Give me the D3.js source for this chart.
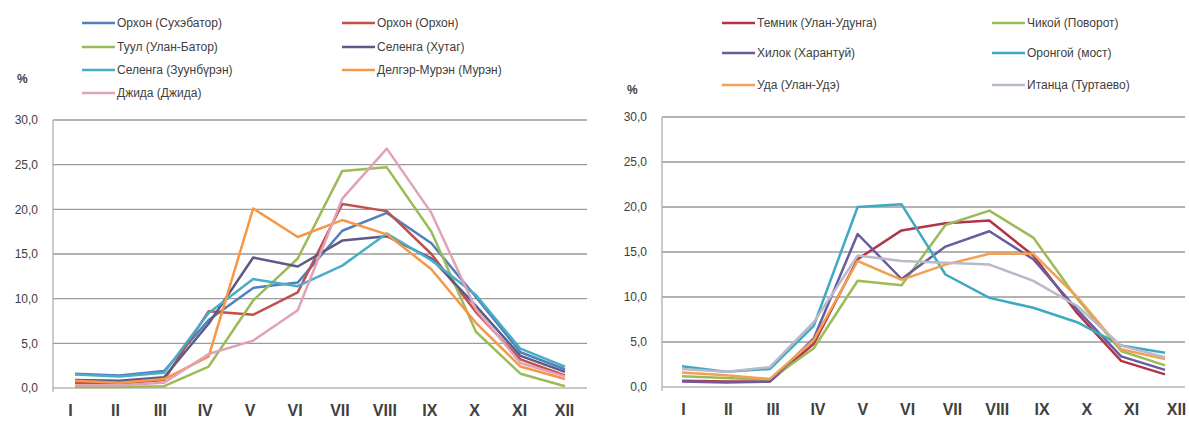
<!DOCTYPE html>
<html lang="ru">
  <head>
    <meta charset="UTF-8" />
    <title>Внутригодовое распределение стока</title>
    <script src="https://d3js.org/d3.v7.min.js"></script>
    <style>
      body { margin: 0; background: #fff; }
      text { font-family: 'Liberation Sans', Arial, sans-serif; fill: #404040; }
    </style>
  </head>

  <body>
    <div id="graph"></div>
    <script>
      // месяцы
      const months = ['I', 'II', 'III', 'IV', 'V', 'VI', 'VII', 'VIII', 'IX', 'X', 'XI', 'XII']
      const yTicks = [0, 5, 10, 15, 20, 25, 30]

      // левый график (Монголия), %
      const leftNames = ['Орхон (Сухэбатор)', 'Орхон (Орхон)', 'Туул (Улан-Батор)', 'Селенга (Хутаг)', 'Селенга (Зуунбүрэн)', 'Делгэр-Мурэн (Мурэн)', 'Джида (Джида)']
      const orkhonSukhbaatar = [1.6, 1.4, 1.9, 7.6, 11.2, 11.8, 17.6, 19.6, 16.2, 10.2, 4.0, 2.1]
      const orkhonOrkhon = [0.6, 0.5, 0.9, 8.6, 8.2, 10.7, 20.6, 19.8, 15.0, 8.5, 3.2, 1.4]
      const tuulUlaanbaatar = [0.1, 0.1, 0.2, 2.4, 9.8, 14.5, 24.3, 24.7, 17.5, 6.3, 1.6, 0.2]
      const selengaKhutag = [0.9, 0.8, 1.2, 7.2, 14.6, 13.6, 16.5, 17.0, 14.5, 9.2, 3.6, 1.8]
      const selengaZuunburen = [1.5, 1.3, 1.7, 8.4, 12.2, 11.4, 13.7, 17.3, 14.3, 10.4, 4.4, 2.4]
      const delgerMuren = [0.8, 0.6, 1.0, 3.5, 20.1, 16.9, 18.8, 17.2, 13.3, 7.3, 2.4, 1.0]
      const dzhidaDzhida = [0.3, 0.3, 0.6, 3.8, 5.3, 8.7, 21.2, 26.8, 19.6, 8.8, 2.8, 1.3]
      const leftColors = ['#4f81bd', '#c0504d', '#9bbb59', '#5c5a86', '#4bacc6', '#f79646', '#e0a2b6']

      // правый график (Россия), %
      const rightNames = ['Темник (Улан-Удунга)', 'Чикой (Поворот)', 'Хилок (Харантуй)', 'Оронгой (мост)', 'Уда (Улан-Удэ)', 'Итанца (Туртаево)']
      const temnik = [0.7, 0.6, 0.6, 4.8, 14.2, 17.4, 18.2, 18.5, 14.6, 8.2, 2.9, 1.4]
      const chikoy = [1.2, 1.0, 0.8, 4.3, 11.8, 11.3, 18.0, 19.6, 16.6, 9.8, 4.0, 2.4]
      const khilok = [0.6, 0.5, 0.6, 5.4, 17.0, 12.0, 15.6, 17.3, 14.2, 8.6, 3.4, 1.9]
      const orongoy = [2.3, 1.7, 2.0, 6.8, 20.0, 20.3, 12.5, 9.9, 8.8, 7.2, 4.6, 3.8]
      const uda = [1.6, 1.3, 0.9, 5.2, 14.0, 11.9, 13.6, 14.8, 14.8, 10.0, 4.2, 3.1]
      const itantsa = [2.0, 1.7, 2.2, 7.2, 14.6, 14.0, 13.8, 13.6, 11.8, 9.0, 4.6, 3.3]
      const rightColors = ['#b3344a', '#9bbb59', '#6a5c9c', '#3fa9c2', '#f2a052', '#b9b9c9']

      const svg = d3.select('#graph').append('svg').attr('width', 1189).attr('height', 424)

      function drawChart(opt) {
        const g = svg.append('g')
        const x = d3.scalePoint().domain(months).range(opt.xRange)
        // подписи месяцев в оригинале чуть шире, чем точки
        const xLab = d3.scalePoint().domain(months).range(opt.labRange)
        const y = d3.scaleLinear().domain([0, 30]).range(opt.yRange)

        // сетка
        g.selectAll('line.grid')
          .data(yTicks)
          .join('line')
          .attr('x1', opt.left)
          .attr('x2', opt.right)
          .attr('y1', (d) => y(d))
          .attr('y2', (d) => y(d))
          .attr('stroke', (d) => (d === 0 ? '#b5b5b5' : '#9a9a9a'))
          .attr('stroke-width', 1.3)
        g.append('line')
          .attr('x1', opt.left).attr('x2', opt.left)
          .attr('y1', y(30)).attr('y2', y(0) + 4)
          .attr('stroke', '#b0b0b0').attr('stroke-width', 1.3)

        // ось Y
        g.selectAll('text.ytick')
          .data(yTicks)
          .join('text')
          .attr('x', opt.left - 15)
          .attr('y', (d) => y(d))
          .attr('dy', '0.35em')
          .attr('text-anchor', 'end')
          .attr('font-size', 12)
          .text((d) => d.toFixed(1).replace('.', ','))
        g.append('text').attr('x', opt.pctX).attr('y', opt.pctY).attr('font-size', 12).attr('font-weight', 600).text('%')

        // ось X
        const xAxis = d3.axisBottom(xLab).tickSize(0).tickPadding(17)
        const ax = g.append('g').attr('transform', `translate(0, ${y(0)})`).call(xAxis)
        ax.select('.domain').remove()
        ax.selectAll('text')
          .attr('font-family', "'Liberation Serif', 'Times New Roman', serif")
          .attr('font-size', 16)
          .attr('font-weight', 'bold')
          .attr('fill', '#2a2a2a')

        // линии
        const line = d3.line().x((_, i) => x(months[i])).y((d) => y(d))
        g.selectAll('path.series')
          .data(opt.series)
          .join('path')
          .attr('fill', 'none')
          .attr('stroke', (_, i) => opt.colors[i])
          .attr('stroke-width', 2.5)
          .attr('stroke-linejoin', 'round')
          .attr('d', (d) => line(d))

        // легенда
        const leg = g.selectAll('g.leg')
          .data(opt.names)
          .join('g')
          .attr('transform', (_, i) => {
            const col = i % 2
            const row = Math.floor(i / 2)
            return `translate(${opt.legX[col]}, ${opt.legY[row]})`
          })
        leg.append('line')
          .attr('x1', 0).attr('x2', 33)
          .attr('stroke', (_, i) => opt.colors[i])
          .attr('stroke-width', 2.6)
        leg.append('text')
          .attr('x', 35)
          .attr('dy', '0.35em')
          .attr('font-size', 12)
          .text((d) => d)
      }

      drawChart({
        names: leftNames,
        series: [orkhonSukhbaatar, orkhonOrkhon, tuulUlaanbaatar, selengaKhutag, selengaZuunburen, delgerMuren, dzhidaDzhida],
        colors: leftColors,
        left: 53, right: 587,
        xRange: [75, 565], labRange: [70, 564], yRange: [388, 120],
        pctX: 17, pctY: 83,
        legX: [82, 342], legY: [23, 47, 70, 93]
      })

      drawChart({
        names: rightNames,
        series: [temnik, chikoy, khilok, orongoy, uda, itantsa],
        colors: rightColors,
        left: 662, right: 1185,
        xRange: [682, 1165], labRange: [683, 1176], yRange: [387, 117],
        pctX: 627, pctY: 94,
        legX: [722, 992], legY: [23, 53, 85]
      })
    </script>
  </body>
</html>
